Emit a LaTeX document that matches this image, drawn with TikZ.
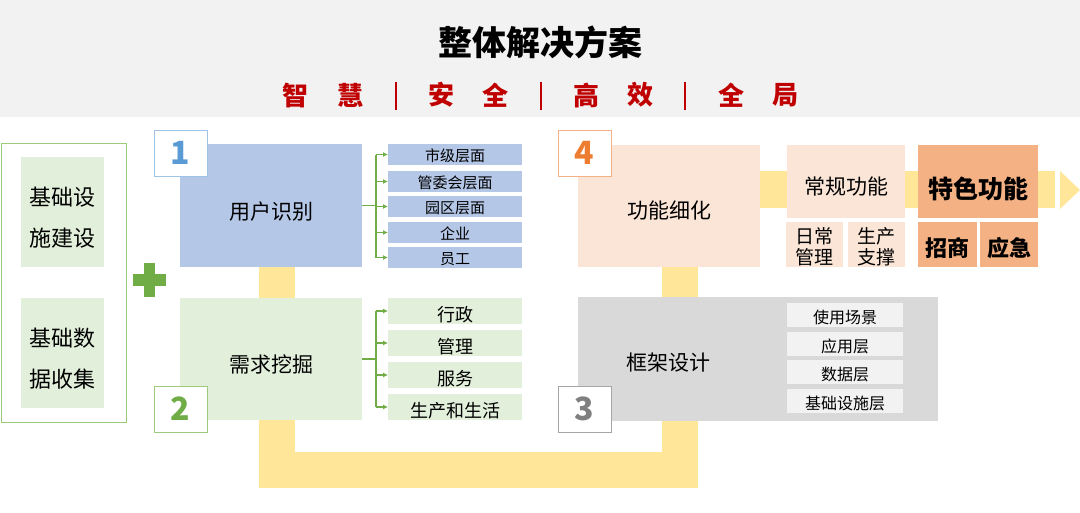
\documentclass[tikz,border=0pt]{standalone}
\usepackage{fontspec}
\setmainfont{Noto Sans CJK SC}
\usetikzlibrary{arrows.meta,backgrounds}
\definecolor{hdr}{HTML}{F2F2F2}
\definecolor{redt}{HTML}{C00000}
\definecolor{blu}{HTML}{B4C7E7}
\definecolor{grn}{HTML}{E2EFDA}
\definecolor{grnd}{HTML}{70AD47}
\definecolor{grnl}{HTML}{9CCB7E}
\definecolor{yel}{HTML}{FFE699}
\definecolor{pch}{HTML}{FBE5D6}
\definecolor{org}{HTML}{F4B183}
\definecolor{gry}{HTML}{D9D9D9}
\definecolor{lgry}{HTML}{F2F2F2}
\definecolor{bluen}{HTML}{5B9BD5}
\definecolor{bluel}{HTML}{9DC3E6}
\definecolor{orgn}{HTML}{ED7D31}
\definecolor{gryn}{HTML}{7F7F7F}
\definecolor{gryl}{HTML}{A6A6A6}
\newcommand{\fs}[2]{\fontsize{#1}{#2}\selectfont}
\begin{document}
\begin{tikzpicture}[x=1pt,y=-1pt,
  box/.style={anchor=north west, inner sep=0pt, outer sep=0pt, align=center, text=black},
  hd/.style 2 args={text height=#1pt, text depth=#2pt},
  numbox/.style={box, fill=white, line width=1pt, minimum width=53pt, minimum height=46pt, font=\bfseries\fs{32}{32}},
  subc/.style={text=redt, font=\bfseries\fs{26}{26}},
  band/.style={yel, line width=36pt},
  gl/.style={grnd, line width=1.1pt},
  ga/.style={gl, -{Latex[length=5pt,width=5pt]}}
]
\useasboundingbox (0,0) rectangle (1080,512);
\fill[hdr] (0,0) rectangle (1080,117);
\node[font=\bfseries\fs{34}{34}] (title) at (540,42) {整体解决方案};
\foreach \x/\c in {295/智,350/慧,441/安,495/全,586/高,640/效,731/全,785/局}
  \node[subc] (s\x) at (\x,95) {\c};
\foreach \x in {396,541,685}
  \draw[redt, line width=2.5pt] (\x,82) -- (\x,110);

% left panel
\node[box, draw=grnl, line width=1pt, minimum width=125pt, minimum height=279pt] (lp) at (1,143) {};
\node[box, fill=grn, minimum width=83pt, minimum height=110pt, font=\fs{22}{41}, hd={71.4}{2.64}] (lp1) at (21,157) {基础设\\施建设};
\node[box, fill=grn, minimum width=83pt, minimum height=110pt, font=\fs{22}{41}, hd={71.4}{2.64}] (lp2) at (21,298) {基础数\\据收集};
\fill[grnd] (133,274) rectangle (166,286);
\fill[grnd] (144,263) rectangle (155,297);

% box 1
\node[box, fill=blu, minimum width=182pt, minimum height=123pt, font=\fs{21}{21}, hd={31.5}{2.52}] (b1) at (180,144) {用户识别};
\foreach \i/\y/\t in {1/144/市级层面,2/171/管委会层面,3/196/园区层面,4/222/企业,5/247/员工}
  \node[box, fill=blu, minimum width=134pt, minimum height=21pt, font=\fs{15}{15}, hd={16.2}{1.8}] (u\i) at (388,\y) {\t};
% box 2
\node[box, fill=grn, minimum width=182pt, minimum height=122pt, font=\fs{21}{21}, hd={30.5}{2.52}] (b2) at (180,298) {需求挖掘};
\foreach \i/\y/\t in {1/298/行政,2/330/管理,3/362/服务,4/394/生产和生活}
  \node[box, fill=grn, minimum width=134pt, minimum height=26pt, font=\fs{18}{18}, hd={22.8}{2.16}] (n\i) at (388,\y) {\t};

% trees
\coordinate (tx) at (376,0);
\draw[gl] (b1.east) -- (b1.east -| tx);
\draw[gl] (tx |- u1.west) -- (tx |- u5.west);
\foreach \i in {1,...,5} \draw[ga] (tx |- u\i.west) -- (u\i.west);
\draw[gl] (b2.east) -- (b2.east -| tx);
\draw[gl] (tx |- n1.west) -- (tx |- n4.west);
\foreach \i in {1,...,4} \draw[ga] (tx |- n\i.west) -- (n\i.west);

% box 4
\node[box, fill=pch, minimum width=182pt, minimum height=122pt, font=\fs{21}{21}, hd={28.5}{2.52}] (b4) at (578,145) {功能细化};
\node[box, fill=pch, minimum width=118pt, minimum height=73pt, font=\fs{21}{21}, hd={29.5}{2.52}] (g1) at (787,145) {常规功能};
\node[box, fill=pch, minimum width=57pt, minimum height=45pt, font=\fs{19}{21}, hd={41.7}{2.28}] (g2) at (786,222) {日常\\管理};
\node[box, fill=pch, minimum width=57pt, minimum height=45pt, font=\fs{19}{21}, hd={41.7}{2.28}] (g3) at (848,222) {生产\\支撑};
\node[box, fill=org, minimum width=120pt, minimum height=73pt, font=\bfseries\fs{25}{25}, hd={37}{3}] (f1) at (918,145) {特色功能};
\node[box, fill=org, minimum width=59pt, minimum height=45pt, font=\bfseries\fs{22}{22}, hd={26.4}{2.64}] (f2) at (918,222) {招商};
\node[box, fill=org, minimum width=58pt, minimum height=45pt, font=\bfseries\fs{22}{22}, hd={26.4}{2.64}] (f3) at (980,222) {应急};

% box 3
\node[box, fill=gry, minimum width=360pt, minimum height=124pt] (b3) at (578,297) {};
\node[font=\fs{21}{21}] (b3t) at (668,363) {框架设计};
\foreach \i/\y/\t in {1/303/使用场景,2/332/应用层,3/360/数据层,4/389/基础设施层}
  \node[box, fill=lgry, minimum width=116pt, minimum height=24pt, font=\fs{16}{16}, hd={18.1}{1.92}] (m\i) at (787,\y) {\t};

% number boxes
\node[numbox, draw=bluel, text=bluen] (k1) at (154,130) {1};
\node[numbox, draw=grnl, text=grnd] (k2) at (154,386) {2};
\node[numbox, draw=gryl, text=gryn] (k3) at (558,386) {3};
\node[numbox, draw=org, text=orgn] (k4) at (558,130) {4};

% yellow bands
\coordinate (ul) at (277,469.5);
\coordinate (ur) at (680,469.5);
\coordinate (ae) at (1055,189.5);
\begin{pgfonlayer}{background}
\draw[band] ([xshift=6pt]b1.south) -- ([xshift=6pt]b2.north);
\draw[band, miter limit=10] ([xshift=6pt]b2.south) -- (ul) -- (ur) -- (b3.south -| ur);
\draw[band] (b4.south -| ur) -- (b3.north -| ur);
\draw[yel, line width=37pt] (b4.east |- ae) -- (ae);
\fill[yel] (1060,171) -- (1080,190) -- (1060,209) -- cycle;
\end{pgfonlayer}
\end{tikzpicture}
\end{document}
